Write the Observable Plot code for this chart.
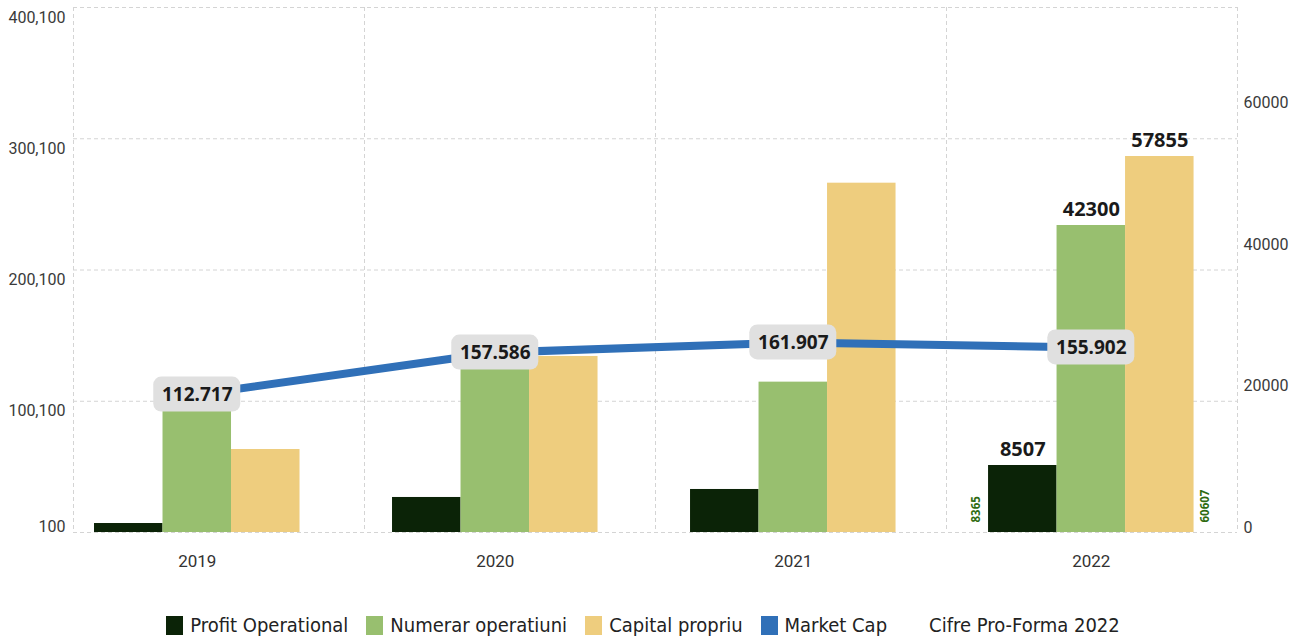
<!DOCTYPE html>
<html>
<head>
<meta charset="utf-8">
<script src="https://cdn.jsdelivr.net/npm/d3@7"></script>
<script src="https://cdn.jsdelivr.net/npm/@observablehq/plot@0.6"></script>
<style>
  body { margin: 0; background: #fff; }
  #legend { display: flex; justify-content: center; align-items: center; height: 30px; font-family: "Liberation Sans Narrow", "DejaVu Sans Condensed", sans-serif; font-size: 20px; color: #222; }
  .item { display: flex; align-items: center; margin-right: 18px; }
  .sw { width: 17px; height: 19px; margin-right: 7px; }
</style>
</head>
<body>
<div id="chart"></div>
<div id="legend"></div>
<script>
// ---- data ----
const years = ["2019", "2020", "2021", "2022"];
const seriesNames = ["Profit Operational", "Numerar operatiuni", "Capital propriu"];
const profitOperational = [1270, 4950, 6080, 9470];      // right-axis units
const numerarOperatiuni = [17950, 24000, 21250, 43390];
const capitalPropriu = [11730, 24880, 49370, 53140];
const marketCap = [105200, 137200, 144900, 141100];       // left-axis units
const marketCapLabels = ["112.717", "157.586", "161.907", "155.902"];
const barLabels2022 = ["8507", "42300", "57855"];
const proForma2022 = ["8365", "60607"];
const leftTicks = [100, 100100, 200100, 300100, 400100];
const leftTickLabels = ["100", "100,100", "200,100", "300,100", "400,100"];
const rightTicks = [0, 20000, 40000, 60000];
const rightTickLabels = ["0", "20000", "40000", "60000"];
const legendNames = ["Profit Operational", "Numerar operatiuni", "Capital propriu", "Market Cap", "Cifre Pro-Forma 2022"];

// ---- styles / layout ----
const colors = ["#0b2307", "#98bf6f", "#eecd7e"];
const lineColor = "#3070b8";
const legendColors = ["#0b2307", "#98bf6f", "#eecd7e", "#3070b8", "transparent"];
const W = 1304, H = 610;
const yMax = 74200;           // right-axis top
const leftMax = 400100, leftMin = 100;
const toR = L => (L - leftMin) / (leftMax - leftMin) * yMax;
const gStart0 = 0.0722, gStep = 1.0241, barW = 0.2354;
const gStart = i => gStart0 + gStep * i;
const gCenter = i => gStart(i) + 1.5 * barW;
const boxW = 0.299, boxH = 35 / 525 * yMax;
const font = "Roboto, sans-serif";
const boldFont = "'Noto Sans', sans-serif";

const seriesVals = [profitOperational, numerarOperatiuni, capitalPropriu];
const bars = [];
years.forEach((yr, i) => {
  seriesVals.forEach((vals, k) => {
    bars.push({x1: gStart(i) + k * barW, x2: gStart(i) + (k + 1) * barW, v: vals[i], color: colors[k]});
  });
});
const mc = years.map((yr, i) => ({x: gCenter(i), y: toR(marketCap[i]), label: marketCapLabels[i]}));
const last = years.length - 1;
const lab2022 = barLabels2022.map((t, k) => ({x: gStart(last) + (k + 0.5) * barW, y: seriesVals[k][last], t}));
const pfLeft = [{x: gStart(last), t: proForma2022[0]}];
const pfRight = [{x: gStart(last) + 3 * barW, t: proForma2022[1]}];
const leftR = leftTicks.map(toR);
const leftData = leftTicks.map((L, i) => ({y: toR(L), t: leftTickLabels[i]}));
const rightData = rightTicks.map((v, i) => ({y: v, t: rightTickLabels[i]}));

const grid = {stroke: "#d4d4d4", strokeDasharray: "4,3", strokeWidth: 1};
const tickText = {fontSize: 16, fill: "#3a3a3a", fontFamily: font};
const pfText = {y: d => 0, text: "t", rotate: -90, textAnchor: "start", dy: -10, fontSize: 11.5, fontWeight: "bold", fill: "#2e6b12", fontFamily: boldFont};

const chart = Plot.plot({
  width: W, height: H,
  marginLeft: 73, marginRight: 67, marginTop: 7, marginBottom: H - 532,
  x: {type: "linear", domain: [0, 4], axis: null},
  y: {domain: [0, yMax], axis: null},
  color: {type: "identity"},
  style: {fontFamily: font, background: "#fff"},
  marks: [
    Plot.ruleY(leftR, {...grid}),
    Plot.ruleX([0, 1, 2, 3, 4], {...grid}),
    Plot.rect(bars, {x1: "x1", x2: "x2", y1: d => 0, y2: "v", fill: "color"}),
    Plot.line(mc, {x: "x", y: "y", stroke: lineColor, strokeWidth: 8, curve: "linear"}),
    Plot.rect(mc, {x1: d => d.x - boxW / 2, x2: d => d.x + boxW / 2, y1: d => d.y - boxH / 2, y2: d => d.y + boxH / 2, fill: "#e0e0e0", rx: 8}),
    Plot.text(mc, {x: "x", y: "y", text: "label", fontSize: 19, fontWeight: "bold", fill: "#1a1a1a", fontFamily: boldFont}),
    Plot.text(lab2022, {x: "x", y: "y", text: "t", dy: -16, fontSize: 20, fontWeight: "bold", fill: "#1a1a1a", fontFamily: boldFont}),
    Plot.text(pfLeft, {x: "x", dx: -12, ...pfText}),
    Plot.text(pfRight, {x: "x", dx: 11, ...pfText}),
    Plot.text(years, {x: (d, i) => gCenter(i), y: d => 0, text: d => d, dy: 29, fontSize: 17, fill: "#333", fontFamily: font}),
    Plot.text(leftData.slice(1), {y: "y", text: "t", frameAnchor: "left", dx: -8, dy: 10, textAnchor: "end", ...tickText}),
    Plot.text(leftData.slice(0, 1), {y: "y", text: "t", frameAnchor: "left", dx: -8, dy: -6, textAnchor: "end", ...tickText}),
    Plot.text(rightData, {y: "y", text: "t", frameAnchor: "right", dx: 6, dy: -5, textAnchor: "start", ...tickText})
  ]
});
document.getElementById("chart").appendChild(chart);

const lg = document.getElementById("legend");
legendNames.forEach((n, i) => {
  const it = document.createElement("div");
  it.className = "item";
  const sw = document.createElement("span");
  sw.className = "sw";
  sw.style.background = legendColors[i];
  it.appendChild(sw);
  const tx = document.createElement("span");
  tx.textContent = n;
  it.appendChild(tx);
  lg.appendChild(it);
});
</script>
</body>
</html>
